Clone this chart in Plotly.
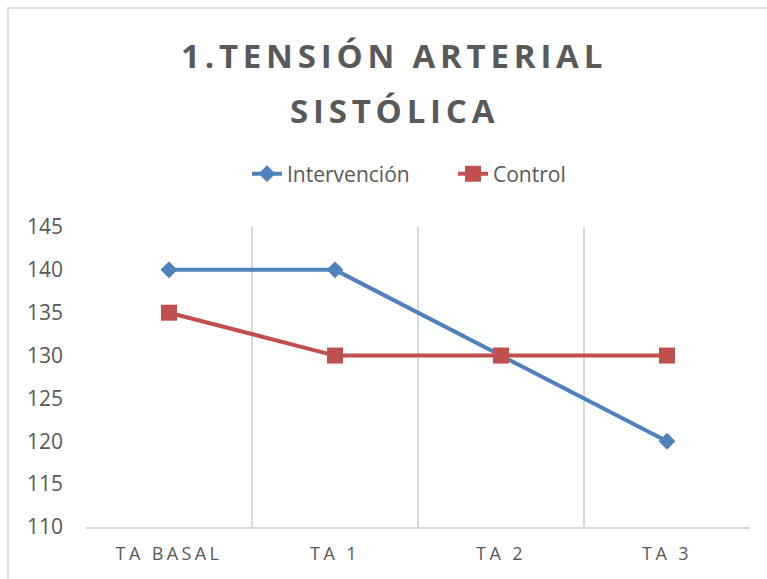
import plotly.graph_objects as go

categories = ["TA BASAL", "TA 1", "TA 2", "TA 3"]
intervencion = [140, 140, 130, 120]
control = [135, 130, 130, 130]
y_ticks = [110, 115, 120, 125, 130, 135, 140, 145]
title_lines = ["1.TENSIÓN ARTERIAL", "SISTÓLICA"]

W, H = 767, 579
L, R, T, B = 86, 17, 227, 52
pw, ph = W - L - R, H - T - B


def py(p):
    """pixel row -> paper y"""
    return (H - B - p) / ph


def px(p):
    return (p - L) / pw


fig = go.Figure()
fig.add_trace(go.Scatter(
    x=categories, y=intervencion, name="Intervención", mode="lines+markers",
    line=dict(color="#4F81BD", width=4),
    marker=dict(symbol="diamond", size=13, color="#4F81BD"),
))
fig.add_trace(go.Scatter(
    x=categories, y=control, name="Control", mode="lines+markers",
    line=dict(color="#C0504D", width=4),
    marker=dict(symbol="square", size=16, color="#C0504D"),
))

# outer chart border (cropped at right/bottom)
fig.add_shape(type="rect", xref="paper", yref="paper",
              x0=px(8), x1=px(W + 20), y0=py(H + 20), y1=py(8),
              line=dict(color="#d9d9d9", width=1.5), fillcolor="rgba(0,0,0,0)", layer="below")

for txt, yc in zip(title_lines, [56, 110]):
    fig.add_annotation(
        text=f'<span style="letter-spacing:4.8px">{txt}</span>',
        xref="paper", yref="paper", x=px(394), y=py(yc),
        xanchor="center", yanchor="middle", showarrow=False,
        font=dict(family="Open Sans", size=33, color="#595959", weight="bold"),
    )

tick_text = [f'<span style="letter-spacing:3.4px">{c}</span>' for c in categories]

fig.update_layout(
    width=W, height=H,
    margin=dict(l=L, r=R, t=T, b=B),
    paper_bgcolor="white", plot_bgcolor="white",
    font=dict(family="Open Sans", color="#595959"),
    legend=dict(orientation="h", x=247 / W, xanchor="left", xref="container",
                y=1 - 174 / H, yanchor="middle", yref="container",
                entrywidth=161, entrywidthmode="pixels",
                font=dict(size=21, color="#595959")),
    showlegend=True,
    xaxis=dict(type="category", tickson="boundaries", showgrid=True, gridcolor="#d9d9d9",
               gridwidth=1.5, showline=True, linecolor="#d9d9d9", linewidth=1.5,
               ticks="", range=[-0.5, 3.5], tickvals=categories, ticktext=tick_text,
               ticklabelstandoff=10,
               tickfont=dict(size=18, color="#595959"), zeroline=False),
    yaxis=dict(range=[110, 145], tickvals=y_ticks, showgrid=False, showline=False,
               zeroline=False, ticks="", ticklabelstandoff=22,
               tickfont=dict(size=21, color="#595959")),
)

fig.write_html("out.html", config={"displayModeBar": False},
               post_script="document.body.style.margin='0';document.body.style.overflow='hidden';")
